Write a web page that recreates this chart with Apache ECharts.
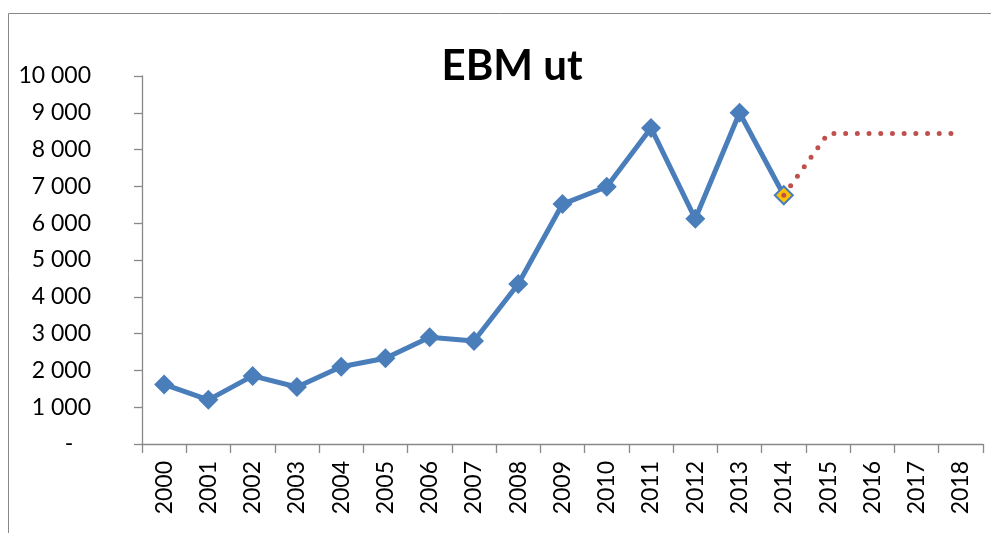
<!DOCTYPE html>
<html>
<head>
<meta charset="utf-8">
<script src="https://cdn.jsdelivr.net/npm/echarts@6/dist/echarts.min.js"></script>
<style>
  html, body { margin: 0; padding: 0; background: #fff; }
  #main { width: 991px; height: 533px; }
</style>
</head>
<body>
<div id="main"></div>
<script>
// årstall på x-aksen
var years = ['2000','2001','2002','2003','2004','2005','2006','2007','2008','2009',
             '2010','2011','2012','2013','2014','2015','2016','2017','2018'];
// faktiske verdier (2000-2014)
var actual = [1620, 1200, 1850, 1550, 2100, 2330, 2900, 2800, 4350, 6520,
              6990, 8590, 6120, 9000, 6760, null, null, null, null];
// prognose (stiplet), starter i 2014
var forecast = [null, null, null, null, null, null, null, null, null, null,
                null, null, null, null, 6760, 8440, 8440, 8440, 8440];
var yMin = 0, yMax = 10000, yStep = 1000;

var axisGrey = '#898989';
var font = 'Lato, "Open Sans", sans-serif';

function fmt(v) {
    if (v === 0) return '-   ';
    return String(v).replace(/\B(?=(\d{3})+(?!\d))/g, ' ');
}

var chart = echarts.init(document.getElementById('main'));

// siste faktiske punkt markeres gult
var actualData = actual.map(function (v, i) {
    if (i === 14) {
        return {
            value: v,
            symbolSize: 18,
            itemStyle: { color: '#FFC000', borderColor: '#4A7EBB', borderWidth: 2 }
        };
    }
    return v;
});

var option = {
    backgroundColor: '#fff',
    animation: false,
    title: {
        text: 'EBM ut',
        left: 507,
        top: 40,
        textAlign: 'center',
        textStyle: { fontFamily: font, fontWeight: 'bold', fontSize: 42, color: '#000' }
    },
    graphic: [{
        type: 'rect',
        shape: { x: 8.5, y: 13.5, width: 1100, height: 700 },
        style: { fill: 'none', stroke: '#888', lineWidth: 1 },
        silent: true
    }],
    grid: { left: 142, right: 8, top: 76, bottom: 89, containLabel: false },
    xAxis: {
        type: 'category',
        data: years,
        boundaryGap: true,
        axisLine: { lineStyle: { color: axisGrey, width: 1.3 } },
        axisTick: { show: true, length: 9, lineStyle: { color: axisGrey, width: 1.3 } },
        axisLabel: {
            rotate: 90, margin: 17, interval: 0,
            fontFamily: font, fontSize: 23, color: '#000'
        },
        splitLine: { show: false }
    },
    yAxis: {
        type: 'value',
        min: yMin, max: yMax, interval: yStep,
        axisLine: { show: true, lineStyle: { color: axisGrey, width: 1.3 } },
        axisTick: { show: true, length: 8, lineStyle: { color: axisGrey, width: 1.3 } },
        axisLabel: {
            margin: 51, fontFamily: font, fontSize: 23, color: '#000',
            formatter: fmt
        },
        splitLine: { show: false }
    },
    series: [{
        name: 'EBM ut',
        type: 'line',
        data: actualData,
        symbol: 'diamond',
        symbolSize: 20,
        showAllSymbol: true,
        lineStyle: { color: '#4A7EBB', width: 5 },
        itemStyle: { color: '#4A7EBB' },
        z: 2
    }, {
        name: 'Prognose',
        type: 'line',
        data: forecast,
        symbol: 'none',
        lineStyle: { color: '#C0504D', width: 5, type: [0, 11.7], cap: 'round' },
        z: 3
    }]
};

chart.setOption(option);
</script>
</body>
</html>
